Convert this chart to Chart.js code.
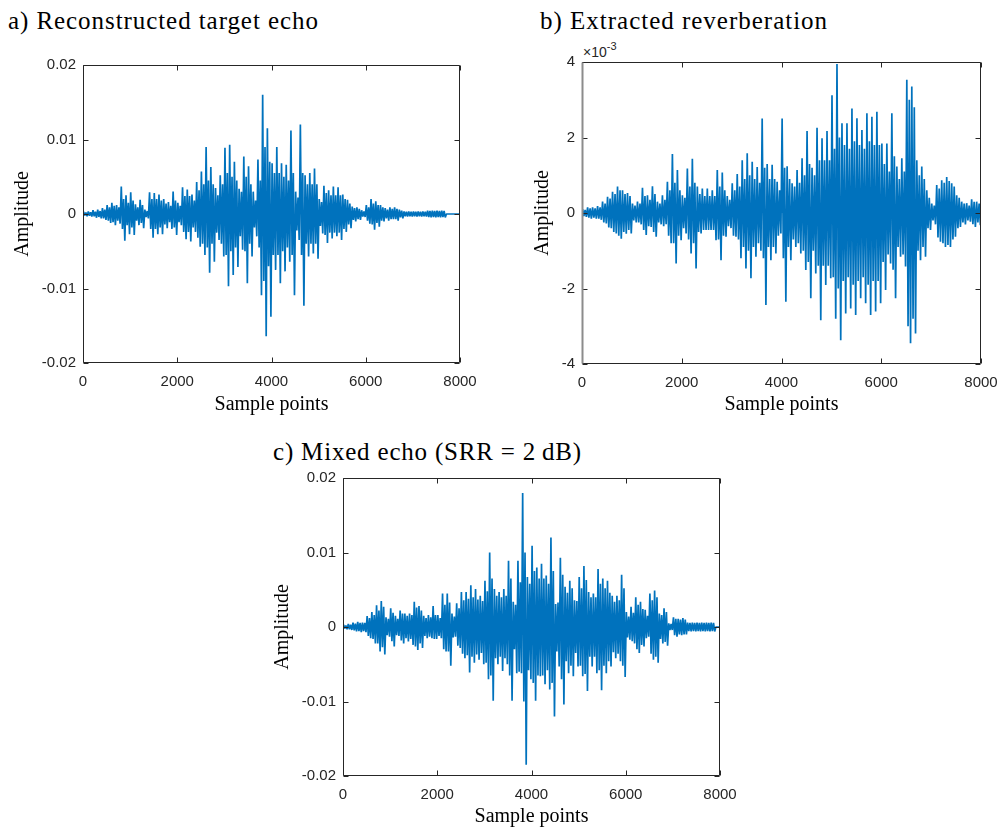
<!DOCTYPE html>
<html><head><meta charset="utf-8">
<script src="https://cdn.jsdelivr.net/npm/chart.js@4.4.1/dist/chart.umd.min.js"></script>
<style>
html,body{margin:0;padding:0;background:#fff;}
body{width:1000px;height:828px;position:relative;overflow:hidden;}
.t{position:absolute;font-family:"Liberation Serif",serif;font-size:25px;color:#000;white-space:nowrap;line-height:1;}
.exp{position:absolute;font-family:"Liberation Sans",Arial,sans-serif;font-size:14px;color:#262626;white-space:nowrap;line-height:1;}
canvas{position:absolute;}
</style></head><body>
<div class="t" id="ta" data-w="310" style="left:8px;top:8px">a) Reconstructed target echo</div>
<div class="t" id="tb" data-w="287" style="left:540px;top:8px">b) Extracted reverberation</div>
<div class="t" id="tc" data-w="308" style="left:273px;top:439px">c) Mixed echo (SRR = 2&#8201;dB)</div>
<div class="exp" style="left:583px;top:45px">×10<span style="position:relative;top:-7px;font-size:11px">-3</span></div>
<canvas id="ca" width="490" height="421" style="left:0px;top:0px"></canvas>
<canvas id="cb" width="510" height="421" style="left:500px;top:0px"></canvas>
<canvas id="cc" width="490" height="403" style="left:260px;top:430px"></canvas>
<script>
// ---- data (units of 1e-3), one entry per 100-sample bin ----
const sampleTicks = [0, 2000, 4000, 6000, 8000];
const ampTicksAC = [-0.02, -0.01, 0, 0.01, 0.02];
const ampTicksB = [-4, -2, 0, 2, 4];
const binSize = 100;

// a) reconstructed target echo: largest positive / negative peak and typical swing per bin
const aUpper = [0.3,0.35,0.5,0.6,0.8,1.2,1.5,1.2,3.7,2.5,
  2.9,1.3,1.9,0.6,2.9,2.8,2.6,2.0,1.6,3.0,
  1.5,3.6,3.3,2.6,4.3,5.7,9.0,6.3,3.5,5.2,
  8.9,9.3,7.0,3.4,7.7,6.4,3.0,7.3,16.0,11.5,
  6.8,9.0,6.8,6.6,11.2,3.0,12.0,5.2,5.5,6.1,
  2.0,3.8,3.2,3.7,3.6,2.6,1.9,1.0,0.9,0.5,
  1.2,2.0,1.7,1.2,0.8,0.9,0.9,0.6,0.35,0.35,
  0.35,0.35,0.35,0.45,0.45,0.45,0.45,0,0,0];
const aLower = [-0.3,-0.35,-0.5,-0.6,-0.8,-1.2,-1.5,-1.3,-3.6,-2.7,
  -2.8,-1.5,-1.9,-0.6,-3.2,-2.7,-2.7,-1.9,-2.0,-2.8,
  -1.5,-3.4,-3.7,-2.4,-4.4,-5.5,-7.9,-6.4,-3.5,-5.7,
  -9.7,-8.2,-7.1,-4.8,-9.3,-5.7,-3.0,-10.9,-16.4,-13.8,
  -7.5,-9.3,-7.7,-6.4,-10.9,-3.5,-12.3,-5.7,-5.3,-6.0,
  -2.6,-3.9,-3.3,-3.0,-3.5,-2.4,-1.9,-1.0,-0.8,-0.4,
  -1.3,-2.1,-1.7,-1.0,-0.9,-0.7,-0.9,-0.6,-0.35,-0.35,
  -0.35,-0.35,-0.35,-0.45,-0.45,-0.45,-0.45,0,0,0];
const aTypical = [0.2,0.25,0.3,0.4,0.6,0.9,1.1,0.9,2.0,1.5,
  1.8,0.9,1.2,0.4,2.0,2.0,1.8,1.4,1.1,1.8,
  1.1,2.4,2.4,1.8,3.2,4.0,4.5,4.0,2.5,4.0,
  5.5,5.0,4.5,3.0,5.0,4.0,1.8,4.5,9.0,7.0,
  5.5,5.5,5.0,4.5,5.5,2.2,5.5,4.0,4.0,4.0,
  1.6,2.8,2.5,2.5,2.5,2.0,1.4,0.8,0.7,0.35,
  0.9,1.4,1.2,0.9,0.6,0.7,0.7,0.45,0.3,0.3,
  0.3,0.3,0.3,0.4,0.4,0.4,0.4,0,0,0];

// b) extracted reverberation (axis in units of 1e-3)
const bUpper = [0.1,0.15,0.15,0.18,0.3,0.43,0.56,0.7,0.6,0.53,
  0.25,0.3,0.67,0.47,0.71,0.3,0.47,0.83,1.56,1.14,
  0.47,1.18,1.44,0.7,0.65,0.65,0.6,1.14,1.07,0.45,
  0.79,1.03,1.4,1.58,1.36,1.22,2.5,1.3,1.28,0.83,
  2.5,1.24,0.79,1.14,1.45,2.17,1.2,2.26,1.98,2.17,
  3.12,3.95,2.38,2.38,2.77,2.51,2.2,2.64,2.55,2.68,
  1.84,1.84,2.64,1.23,1.45,3.53,3.35,1.4,1.23,0.6,
  0.25,0.74,0.87,0.95,0.79,0.47,0.3,0.26,0.36,0.3];
const bLower = [-0.1,-0.15,-0.15,-0.18,-0.28,-0.4,-0.54,-0.68,-0.55,-0.54,
  -0.25,-0.3,-0.58,-0.37,-0.63,-0.3,-0.3,-0.8,-1.34,-0.72,
  -0.54,-1.07,-1.47,-0.54,-0.45,-0.45,-0.72,-1.25,-0.63,-0.4,
  -0.63,-1.2,-1.47,-1.73,-1.16,-1.0,-2.44,-1.25,-1.07,-0.54,
  -2.35,-1.25,-0.9,-1.07,-1.51,-2.26,-1.6,-2.84,-1.91,-1.73,
  -2.8,-3.37,-2.66,-2.53,-2.7,-2.26,-2.39,-2.7,-2.61,-2.39,
  -2.04,-1.34,-2.26,-1.16,-1.42,-3.45,-3.19,-1.25,-1.16,-0.45,
  -0.3,-0.76,-0.9,-0.9,-0.63,-0.37,-0.3,-0.23,-0.37,-0.32];
const bTypical = [0.08,0.12,0.12,0.15,0.25,0.38,0.5,0.6,0.5,0.45,
  0.2,0.25,0.45,0.35,0.5,0.25,0.35,0.6,0.8,0.6,
  0.4,0.7,0.8,0.5,0.45,0.45,0.45,0.7,0.6,0.35,
  0.6,0.7,0.9,1.0,0.9,0.8,1.2,0.9,0.9,0.6,
  1.2,0.9,0.7,0.8,1.0,1.3,1.0,1.4,1.4,1.4,
  1.7,2.0,1.8,1.7,1.9,1.8,1.7,1.9,1.8,1.8,
  1.3,1.1,1.5,0.9,1.1,3.0,2.8,1.0,0.9,0.4,
  0.2,0.65,0.8,0.85,0.7,0.4,0.25,0.2,0.3,0.25];

// c) mixed echo (SRR = 2 dB)
const cUpper = [0.3,0.4,0.6,0.7,0.6,1.46,2.0,2.9,3.5,1.3,
  2.5,1.5,2.2,1.8,1.8,3.4,2.8,1.5,1.6,2.8,
  1.6,4.5,4.5,1.8,3.2,4.7,4.7,5.6,5.1,4.2,
  6.2,10.0,5.1,4.7,5.1,8.9,3.4,8.9,18.0,6.7,
  10.9,8.0,8.5,6.9,12.0,3.1,9.3,5.4,6.2,3.6,
  6.7,8.2,4.7,4.5,7.8,6.5,6.2,4.2,4.2,7.0,
  2.0,2.7,4.0,3.4,2.3,4.5,4.9,1.8,2.5,0.5,
  1.3,1.1,1.2,0.6,0.6,0.6,0.6,0.6,0.6,0];
const cLower = [-0.3,-0.4,-0.6,-0.7,-0.7,-1.5,-2.2,-3.3,-3.7,-1.3,
  -2.6,-1.2,-2.2,-1.95,-2.4,-3.1,-2.8,-1.5,-1.5,-1.6,
  -1.5,-3.3,-5.2,-1.3,-2.8,-4.2,-6.1,-4.8,-4.4,-5.0,
  -7.0,-9.9,-5.0,-5.9,-5.0,-9.9,-6.2,-6.2,-18.5,-7.0,
  -9.9,-6.6,-7.7,-8.4,-12.0,-5.3,-10.4,-6.2,-6.6,-5.3,
  -6.6,-8.6,-5.3,-6.2,-8.5,-6.2,-5.3,-4.2,-4.6,-6.7,
  -1.7,-2.2,-3.5,-2.6,-1.3,-4.4,-4.8,-2.2,-2.5,-0.4,
  -1.3,-1.1,-1.0,-0.6,-0.6,-0.6,-0.6,-0.6,-0.6,0];
const cTypical = [0.2,0.3,0.45,0.55,0.55,1.2,1.6,2.2,2.7,1.1,
  1.9,1.1,1.8,1.5,1.6,2.6,2.2,1.2,1.3,1.6,
  1.2,3.0,3.3,1.4,2.5,3.6,3.8,4.0,3.7,3.5,
  4.8,6.5,4.2,4.0,4.2,6.5,3.0,6.0,10.0,5.8,
  7.5,6.5,6.5,5.8,7.5,3.3,7.0,4.6,5.2,3.5,
  5.2,6.3,4.0,4.0,5.8,5.2,4.6,3.4,3.6,5.2,
  1.4,1.9,3.0,2.4,1.5,3.6,4.0,1.6,2.0,0.4,
  1.1,1.0,1.0,0.55,0.55,0.55,0.55,0.55,0.55,0];

// ---- helpers ----
// each bin: +peak, -typical, +typical, -peak (alternating swings)
function waveform(upper, lower, typical, unit) {
  const pts = [{x: 0, y: 0}];
  const q = binSize / 4;
  upper.forEach((u, i) => {
    const x0 = i * binSize;
    pts.push({x: x0 + q * 0.5, y: u * unit});
    pts.push({x: x0 + q * 1.5, y: -typical[i] * unit});
    pts.push({x: x0 + q * 2.5, y: typical[i] * unit});
    pts.push({x: x0 + q * 3.5, y: lower[i] * unit});
  });
  pts.push({x: upper.length * binSize, y: 0});
  return pts;
}

const boxPlugin = {
  id: 'matlabBox',
  afterDatasetsDraw(chart, args, opts) {
    const {ctx, chartArea, scales} = chart;
    const L = Math.round(chartArea.left) + 0.5, R = Math.round(chartArea.right) - 0.5;
    const T = Math.round(chartArea.top) + 0.5, B = Math.round(chartArea.bottom) - 0.5;
    const tl = 5;
    ctx.save();
    ctx.lineWidth = 1;
    ctx.strokeStyle = '#262626';
    ctx.beginPath();
    ctx.moveTo(L, B); ctx.lineTo(R, B); ctx.lineTo(R, T); ctx.lineTo(L, T);
    scales.x.ticks.forEach(t => {
      const px = Math.round(scales.x.getPixelForValue(t.value)) + 0.5;
      ctx.moveTo(px, B); ctx.lineTo(px, B - tl);
      ctx.moveTo(px, T); ctx.lineTo(px, T + tl);
    });
    scales.y.ticks.forEach(t => {
      const py = Math.round(scales.y.getPixelForValue(t.value)) + 0.5;
      ctx.moveTo(L, py); ctx.lineTo(L + tl, py);
      ctx.moveTo(R, py); ctx.lineTo(R - tl, py);
    });
    ctx.stroke();
    ctx.beginPath();
    ctx.strokeStyle = opts.leftColor || '#262626';
    ctx.lineWidth = opts.leftWidth || 1;
    ctx.moveTo(L, T); ctx.lineTo(L, B);
    ctx.stroke();
    ctx.restore();
  }
};

const blue = '#0072BD';
const tickFont = {family: "'Liberation Sans', Arial, sans-serif", size: 15};
const titleFont = {family: "'Liberation Serif', serif", size: 20};

function build(id, upper, lower, typical, unit, yTicks, pad, yWidth, xHeight, boxOpts) {
  return new Chart(document.getElementById(id), {
    type: 'line',
    data: {datasets: [
      {data: waveform(upper, lower, typical, unit), borderColor: blue, backgroundColor: blue,
        borderWidth: 1.7, pointRadius: 0, tension: 0, fill: 'origin', borderJoinStyle: 'bevel'}
    ]},
    options: {
      responsive: false, animation: false, events: [],
      layout: {padding: pad},
      plugins: {legend: {display: false}, tooltip: {enabled: false}, matlabBox: boxOpts},
      scales: {
        x: {
          type: 'linear', min: sampleTicks[0], max: sampleTicks[sampleTicks.length - 1],
          afterBuildTicks: s => { s.ticks = sampleTicks.map(v => ({value: v})); },
          afterFit: s => { s.height = xHeight; },
          grid: {display: false, drawTicks: false}, border: {display: false},
          ticks: {autoSkip: false, maxRotation: 0, padding: 10, color: '#262626', font: tickFont,
            callback: v => String(v)},
          title: {display: true, text: 'Sample points', color: '#000', font: titleFont,
            padding: {top: 0, bottom: 4}}
        },
        y: {
          type: 'linear', min: yTicks[0], max: yTicks[yTicks.length - 1],
          afterBuildTicks: s => { s.ticks = yTicks.map(v => ({value: v})); },
          afterFit: s => { s.width = yWidth; },
          grid: {display: false, drawTicks: false}, border: {display: false},
          ticks: {autoSkip: false, padding: 7, color: '#262626', font: tickFont,
            callback: v => String(v)},
          title: {display: true, text: 'Amplitude', color: '#000', font: titleFont,
            padding: {top: 4, bottom: 0}}
        }
      }
    },
    plugins: [boxPlugin]
  });
}

build('ca', aUpper, aLower, aTypical, 1e-3, ampTicksAC,
  {left: 7, top: 65, right: 30, bottom: 0}, 76, 58, {});
build('cb', bUpper, bLower, bTypical, 1, ampTicksB,
  {left: 27, top: 62, right: 29, bottom: 0}, 55, 57, {leftColor: '#8c8c8c', leftWidth: 2});
build('cc', cUpper, cLower, cTypical, 1e-3, ampTicksAC,
  {left: 7, top: 48, right: 30, bottom: 0}, 76, 57, {});

// fit title widths to the reference's wider typeface
document.querySelectorAll('.t').forEach(el => {
  const target = +el.dataset.w;
  const n = el.textContent.length;
  const w = el.getBoundingClientRect().width;
  el.style.letterSpacing = ((target - w) / (n - 1)).toFixed(2) + 'px';
});
</script>
</body></html>
